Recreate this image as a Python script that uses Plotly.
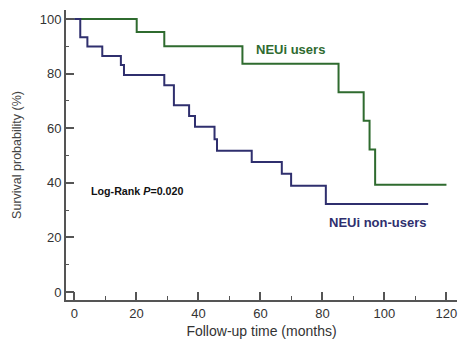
import plotly.graph_objects as go

# NEUi users (green)
users_t = [0, 20.1, 29.0, 54.2, 85.2, 93.3, 95.2, 97.0, 120.0]
users_s = [100, 95.2, 90.0, 83.6, 73.2, 62.7, 52.2, 39.3, 39.3]

# NEUi non-users (navy)
non_t = [0, 1.9, 4.2, 9.0, 15.0, 16.0, 29.0, 32.1, 37.0, 38.9, 45.2, 46.0, 57.2, 66.9, 69.9, 81.1, 114.1]
non_s = [100, 93.3, 89.9, 86.5, 83.2, 79.5, 75.7, 68.4, 64.5, 60.5, 56.0, 51.8, 47.6, 43.3, 38.9, 32.3, 32.3]

x_ticks = [0, 20, 40, 60, 80, 100, 120]
y_ticks = [0, 20, 40, 60, 80, 100]

GREEN = "#2f6b2f"
NAVY = "#2f2f6e"
AXIS = "#555555"

fig = go.Figure()
fig.add_trace(go.Scatter(x=users_t, y=users_s, mode="lines", line=dict(color=GREEN, width=2, shape="hv"),
                         name="NEUi users", showlegend=False))
fig.add_trace(go.Scatter(x=non_t, y=non_s, mode="lines", line=dict(color=NAVY, width=2, shape="hv"),
                         name="NEUi non-users", showlegend=False))

fig.add_annotation(x=58.0, y=88.7, text="<b>NEUi users</b>", showarrow=False, xanchor="left", yanchor="middle",
                   font=dict(family="Arial, Liberation Sans", size=13, color=GREEN))
fig.add_annotation(x=81.5, y=25.5, text="<b>NEUi non-users</b>", showarrow=False, xanchor="left", yanchor="middle",
                   font=dict(family="Arial, Liberation Sans", size=13, color=NAVY))
fig.add_annotation(x=4.8, y=36.9, text="<b>Log-Rank <i>P</i>=0.020</b>", showarrow=False, xanchor="left", yanchor="middle",
                   font=dict(family="Arial, Liberation Sans", size=10.7, color="#111111"))

fig.update_layout(
    width=459, height=339,
    margin=dict(l=66, r=2, t=10, b=39, autoexpand=False),
    paper_bgcolor="white", plot_bgcolor="white",
    font=dict(family="Arial, Liberation Sans", color="#333333"),
    xaxis=dict(range=[-2.7, 123.4], tickvals=x_ticks, ticks="inside", ticklen=8, tickwidth=1.5, tickcolor=AXIS,
               showline=True, linecolor=AXIS, linewidth=2, showgrid=False, zeroline=False, automargin=False,
               tickfont=dict(size=13, color="#333333"),
               minor=dict(tickvals=[10, 30, 50, 70, 90, 110], ticks="inside", ticklen=4, tickcolor=AXIS, tickwidth=1),
               title=dict(text="Follow-up time (months)", font=dict(size=14, color="#333333"), standoff=11)),
    yaxis=dict(range=[-2.9, 103.3], tickvals=y_ticks, ticks="inside", ticklen=8, tickwidth=1.5, tickcolor=AXIS,
               showline=True, linecolor=AXIS, linewidth=2, showgrid=False, zeroline=False, automargin=False,
               tickfont=dict(size=13, color="#333333"),
               minor=dict(tickvals=[10, 30, 50, 70, 90], ticks="inside", ticklen=3, tickcolor=AXIS, tickwidth=1),
               title=dict(text="Survival probability (%)", font=dict(size=12.5, color="#444444"), standoff=15)),
)

fig.write_html("out.html", config={"displayModeBar": False},
               post_script="document.body.style.margin='0';document.body.style.padding='0';document.body.style.overflow='hidden';")
